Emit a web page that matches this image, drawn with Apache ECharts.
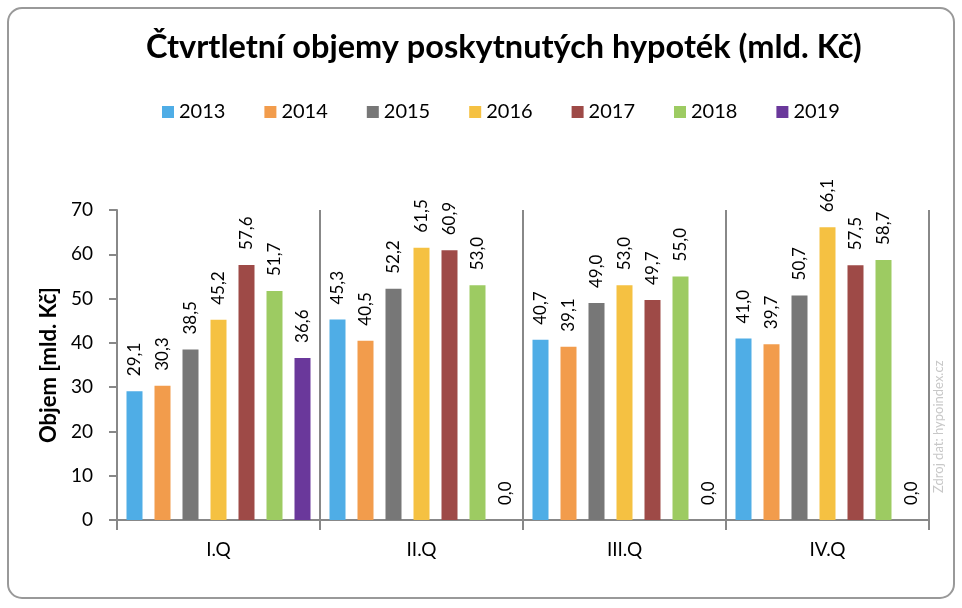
<!DOCTYPE html>
<html><head><meta charset="utf-8">
<script src="https://cdn.jsdelivr.net/npm/echarts@6/dist/echarts.min.js"></script>
<style>html,body{margin:0;padding:0;background:#fff}#c{width:962px;height:608px}</style>
</head><body><div id="c"></div>
<script>
const categories = ['I.Q', 'II.Q', 'III.Q', 'IV.Q'];
const years = ['2013', '2014', '2015', '2016', '2017', '2018', '2019'];
const v2013 = [29.1, 45.3, 40.7, 41.0];
const v2014 = [30.3, 40.5, 39.1, 39.7];
const v2015 = [38.5, 52.2, 49.0, 50.7];
const v2016 = [45.2, 61.5, 53.0, 66.1];
const v2017 = [57.6, 60.9, 49.7, 57.5];
const v2018 = [51.7, 53.0, 55.0, 58.7];
const v2019 = [36.6, 0.0, 0.0, 0.0];
const yTicks = [0, 10, 20, 30, 40, 50, 60, 70];
const colors = ['#4FADE6', '#F29C4C', '#777777', '#F5C142', '#9E4A47', '#9DCB62', '#6A389B'];
const values = [v2013, v2014, v2015, v2016, v2017, v2018, v2019];
const FONT = 'Lato';

const chart = echarts.init(document.getElementById('c'));
chart.setOption({
  animation: false,
  textStyle: { fontFamily: FONT },
  title: {
    text: 'Čtvrtletní objemy poskytnutých hypoték (mld. Kč)',
    left: 141, top: 26,
    textStyle: { fontFamily: FONT, fontSize: 32.5, fontWeight: 'bold', color: '#000' }
  },
  legend: {
    data: years, top: 97, left: 157,
    itemWidth: 12, itemHeight: 12, itemGap: 39, icon: 'rect',
    textStyle: { fontFamily: FONT, fontSize: 20, color: '#000' }
  },
  grid: { left: 117, right: 33, top: 210, bottom: 88 },
  xAxis: {
    type: 'category', data: categories,
    axisLine: { lineStyle: { color: '#888', width: 2 } },
    axisTick: { show: true, length: 10, lineStyle: { color: '#888', width: 2 } },
    axisLabel: { fontFamily: FONT, fontSize: 19, color: '#000', margin: 20 },
    splitLine: { show: true, lineStyle: { color: '#888', width: 2 } }
  },
  yAxis: {
    type: 'value', min: yTicks[0], max: yTicks[yTicks.length - 1], interval: 10,
    name: 'Objem [mld. Kč]', nameLocation: 'middle', nameGap: 56,
    nameTextStyle: { fontFamily: FONT, fontSize: 22, fontWeight: 'bold', color: '#000' },
    axisLine: { show: true, lineStyle: { color: '#888', width: 2 } },
    axisTick: { show: true, length: 8, lineStyle: { color: '#888', width: 2 } },
    axisLabel: { fontFamily: FONT, fontSize: 19, color: '#000', margin: 24 },
    splitLine: { show: false }
  },
  series: years.map((y, i) => ({
    name: y, type: 'bar', data: values[i],
    barWidth: 16, barGap: '75%', barCategoryGap: '9%',
    itemStyle: { color: colors[i] },
    label: {
      show: true, position: 'top', rotate: 90, align: 'left', verticalAlign: 'middle',
      distance: 15, fontFamily: FONT, fontSize: 17, color: '#000',
      formatter: p => p.value.toFixed(1).replace('.', ',')
    }
  })),
  graphic: [
    { type: 'rect', shape: { x: 8, y: 8, width: 946, height: 590, r: 14 },
      style: { fill: 'none', stroke: '#999', lineWidth: 2 }, silent: true },
    { type: 'text', x: 939, y: 493, rotation: Math.PI / 2,
      style: { text: 'Zdroj dat: hypoindex.cz', fill: '#c8c8c8', fontFamily: FONT, fontSize: 13,
        textAlign: 'left', textVerticalAlign: 'middle' } }
  ]
});
</script></body></html>
